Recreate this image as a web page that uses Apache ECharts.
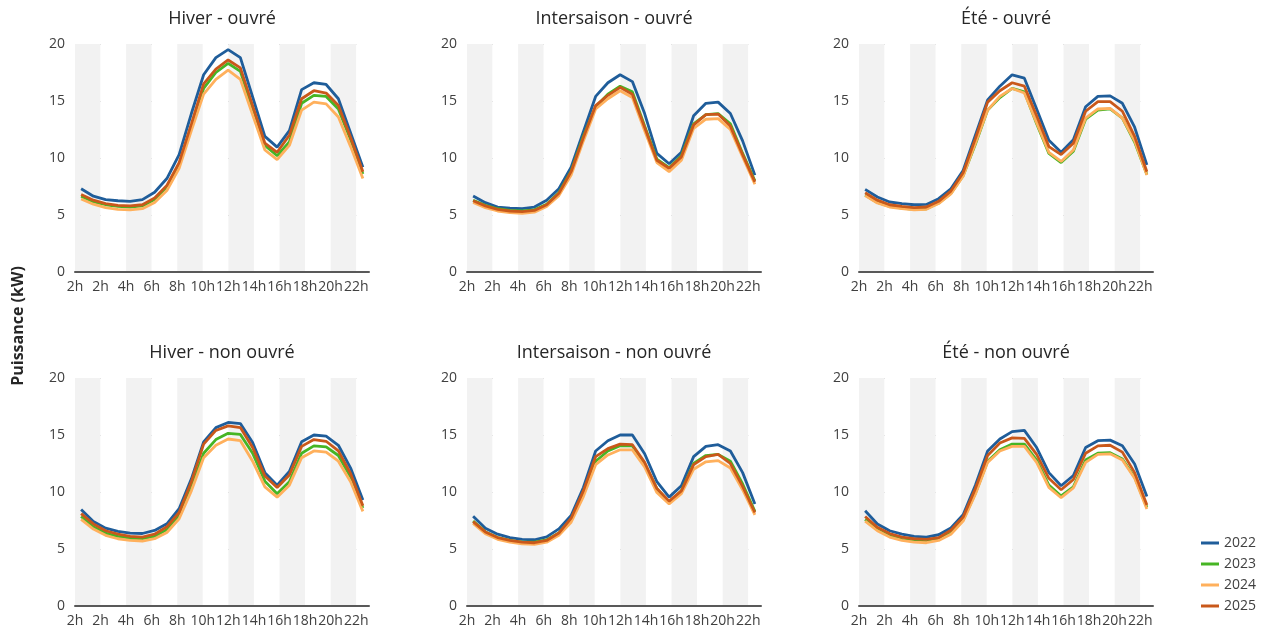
<!DOCTYPE html>
<html>
<head>
<meta charset="utf-8">
<script src="https://cdn.jsdelivr.net/npm/echarts@6/dist/echarts.min.js"></script>
<style>
  html, body { margin: 0; padding: 0; background: #fff; }
  #chart { width: 1261px; height: 630px; }
</style>
</head>
<body>
<div id="chart"></div>
<script>
// hours of the day (one point per hour)
const hours = ['0h','1h','2h','3h','4h','5h','6h','7h','8h','9h','10h','11h','12h','13h','14h','15h','16h','17h','18h','19h','20h','21h','22h','23h'];
// labels under each 2-hour band, as printed
const tickLabels = ['2h','2h','4h','6h','8h','10h','12h','14h','16h','18h','20h','22h'];
const years = ['2022','2023','2024','2025'];
const panelTitles = ['Hiver - ouvré','Intersaison - ouvré','Été - ouvré','Hiver - non ouvré','Intersaison - non ouvré','Été - non ouvré'];

// Hiver - ouvré
const hiverOuvre2022 = [7.3,6.65,6.35,6.25,6.2,6.35,7.0,8.2,10.3,13.9,17.3,18.8,19.5,18.8,15.35,11.9,10.95,12.4,16.0,16.6,16.45,15.2,12.2,9.2];
const hiverOuvre2023 = [6.65,6.15,5.9,5.75,5.7,5.8,6.35,7.45,9.4,12.8,16.1,17.5,18.3,17.6,14.3,11.1,10.2,11.4,14.8,15.5,15.4,14.3,11.6,8.6];
const hiverOuvre2024 = [6.4,5.95,5.65,5.5,5.45,5.55,6.1,7.15,9.1,12.4,15.6,16.9,17.7,16.9,13.8,10.7,9.85,11.1,14.2,14.9,14.75,13.6,11.0,8.2];
const hiverOuvre2025 = [6.8,6.3,6.0,5.85,5.8,5.9,6.5,7.6,9.6,13.0,16.5,17.8,18.6,17.9,14.6,11.3,10.5,12.0,15.2,15.9,15.7,14.6,11.8,8.8];

// Intersaison - ouvré
const interOuvre2022 = [6.67,6.08,5.7,5.6,5.55,5.7,6.3,7.3,9.2,12.3,15.4,16.6,17.3,16.7,13.9,10.4,9.5,10.5,13.7,14.8,14.9,13.9,11.5,8.5];
const interOuvre2023 = [6.3,5.85,5.55,5.4,5.35,5.45,5.95,6.95,8.85,11.9,14.5,15.6,16.3,15.8,12.8,9.9,9.15,10.2,13.0,13.8,13.9,13.0,10.4,8.0];
const interOuvre2024 = [6.1,5.65,5.35,5.2,5.15,5.25,5.75,6.7,8.5,11.5,14.3,15.2,15.9,15.3,12.4,9.6,8.8,9.8,12.6,13.4,13.45,12.5,10.1,7.7];
const interOuvre2025 = [6.25,5.8,5.5,5.35,5.3,5.4,5.9,6.9,8.8,11.8,14.6,15.5,16.2,15.6,12.7,9.8,9.1,10.1,12.9,13.8,13.85,12.8,10.3,7.9];

// Été - ouvré
const eteOuvre2022 = [7.25,6.58,6.14,6.0,5.9,5.93,6.43,7.3,8.9,12.0,15.1,16.3,17.3,17.0,14.3,11.55,10.5,11.6,14.5,15.4,15.45,14.8,12.7,9.4];
const eteOuvre2023 = [6.75,6.1,5.75,5.6,5.5,5.55,6.05,6.9,8.45,11.2,14.2,15.3,16.1,15.8,13.0,10.4,9.6,10.6,13.4,14.2,14.3,13.5,11.4,8.55];
const eteOuvre2024 = [6.7,6.05,5.7,5.55,5.45,5.5,6.0,6.85,8.4,11.3,14.2,15.4,16.1,15.7,13.1,10.5,9.7,10.7,13.5,14.3,14.35,13.5,11.5,8.5];
const eteOuvre2025 = [6.95,6.3,5.9,5.75,5.65,5.7,6.2,7.1,8.7,11.7,14.9,15.9,16.6,16.3,13.7,11.0,10.3,11.3,14.1,14.95,14.95,14.1,11.9,8.8];

// Hiver - non ouvré
const hiverNonOuvre2022 = [8.47,7.42,6.83,6.54,6.39,6.36,6.63,7.21,8.53,11.15,14.4,15.65,16.1,16.0,14.35,11.7,10.6,11.8,14.4,15.0,14.9,14.1,12.1,9.3];
const hiverNonOuvre2023 = [7.85,6.95,6.4,6.1,5.95,5.9,6.1,6.7,7.9,10.4,13.4,14.6,15.15,15.05,13.4,10.95,9.85,10.9,13.4,14.05,13.95,13.2,11.3,8.6];
const hiverNonOuvre2024 = [7.6,6.75,6.2,5.9,5.75,5.7,5.9,6.45,7.65,10.1,13.0,14.1,14.65,14.5,12.7,10.45,9.55,10.6,13.0,13.6,13.5,12.7,10.9,8.3];
const hiverNonOuvre2025 = [8.1,7.2,6.6,6.3,6.1,6.05,6.3,6.95,8.2,10.9,14.2,15.4,15.8,15.65,13.9,11.4,10.4,11.5,14.0,14.6,14.45,13.6,11.6,8.8];

// Intersaison - non ouvré
const interNonOuvre2022 = [7.88,6.83,6.3,5.99,5.84,5.81,6.07,6.77,7.94,10.4,13.6,14.5,15.0,15.0,13.35,10.9,9.55,10.55,13.1,14.0,14.15,13.6,11.7,8.95];
const interNonOuvre2023 = [7.45,6.5,6.0,5.75,5.6,5.6,5.8,6.4,7.6,9.9,12.7,13.6,14.05,14.05,12.5,10.3,9.1,10.1,12.5,13.2,13.3,12.7,10.7,8.3];
const interNonOuvre2024 = [7.25,6.35,5.85,5.6,5.45,5.4,5.6,6.2,7.35,9.6,12.4,13.25,13.7,13.7,12.2,9.95,8.95,9.85,12.0,12.65,12.75,12.1,10.2,8.0];
const interNonOuvre2025 = [7.4,6.5,6.0,5.75,5.6,5.55,5.75,6.4,7.7,10.1,13.1,13.8,14.2,14.15,12.6,10.3,9.2,10.1,12.4,13.1,13.3,12.5,10.5,8.2];

// Été - non ouvré
const eteNonOuvre2022 = [8.35,7.2,6.6,6.3,6.1,6.05,6.25,6.85,8.0,10.6,13.6,14.65,15.3,15.4,13.9,11.7,10.55,11.45,13.9,14.5,14.55,14.05,12.45,9.6];
const eteNonOuvre2023 = [7.6,6.7,6.15,5.85,5.7,5.65,5.85,6.4,7.55,9.9,12.7,13.7,14.2,14.2,12.8,10.6,9.65,10.45,12.8,13.4,13.45,12.9,11.3,8.65];
const eteNonOuvre2024 = [7.45,6.6,6.05,5.75,5.6,5.55,5.75,6.3,7.45,9.8,12.6,13.6,14.0,14.0,12.6,10.4,9.5,10.35,12.6,13.3,13.35,12.8,11.2,8.5];
const eteNonOuvre2025 = [7.85,6.9,6.35,6.05,5.9,5.85,6.0,6.65,7.8,10.3,13.2,14.3,14.75,14.7,13.3,11.2,10.2,11.1,13.4,14.05,14.1,13.5,11.7,8.85];

const panels = [
  [hiverOuvre2022, hiverOuvre2023, hiverOuvre2024, hiverOuvre2025],
  [interOuvre2022, interOuvre2023, interOuvre2024, interOuvre2025],
  [eteOuvre2022, eteOuvre2023, eteOuvre2024, eteOuvre2025],
  [hiverNonOuvre2022, hiverNonOuvre2023, hiverNonOuvre2024, hiverNonOuvre2025],
  [interNonOuvre2022, interNonOuvre2023, interNonOuvre2024, interNonOuvre2025],
  [eteNonOuvre2022, eteNonOuvre2023, eteNonOuvre2024, eteNonOuvre2025]
];

const colors = ['#1f5d9a', '#46b524', '#ffb05c', '#c9581a'];
const font = '"Open Sans", sans-serif';
const lefts = [75, 467, 859];
const tops = [44, 378];
const gridW = 294, gridH = 228;

const chart = echarts.init(document.getElementById('chart'));

const grid = [], xAxis = [], yAxis = [], series = [], title = [];
panels.forEach((panel, p) => {
  const col = p % 3, row = Math.floor(p / 3);
  grid.push({ left: lefts[col], top: tops[row], width: gridW, height: gridH });
  title.push({
    text: panelTitles[p],
    left: lefts[col] + gridW / 2,
    top: tops[row] - 34,
    textAlign: 'center',
    padding: 0,
    textStyle: { fontSize: 18, fontWeight: 'normal', color: '#262626', fontFamily: font }
  });
  // hidden hourly axis carrying the lines
  xAxis.push({
    type: 'category', gridIndex: p, data: hours, boundaryGap: true,
    show: false, position: 'top'
  });
  // visible axis: 2-hour bands and labels
  xAxis.push({
    type: 'value', gridIndex: p, position: 'bottom',
    min: 0, max: 23, interval: 2,
    axisLine: { show: true, lineStyle: { color: '#595959', width: 2 } },
    axisTick: { show: false },
    splitLine: { show: false },
    splitArea: { show: true, areaStyle: { color: ['#f2f2f2', '#ffffff'] } },
    axisLabel: {
      color: '#404040', fontSize: 14, fontFamily: font, margin: 8,
      showMaxLabel: false,
      formatter: v => (v % 2 === 0 && v <= 22) ? tickLabels[v / 2] : ''
    }
  });
  yAxis.push({
    type: 'value', gridIndex: p, min: 0, max: 20, interval: 5,
    axisLine: { show: false }, axisTick: { show: false },
    splitLine: { show: true, lineStyle: { color: '#a6a6a6', type: [2, 2], width: 1 } },
    axisLabel: { color: '#404040', fontSize: 14, fontFamily: font, margin: 10 }
  });
  panel.forEach((vals, k) => {
    series.push({
      name: years[k], type: 'line',
      xAxisIndex: 2 * p, yAxisIndex: p,
      data: vals, symbol: 'none', smooth: false,
      lineStyle: { width: 2.8, color: colors[k] },
      itemStyle: { color: colors[k] },
      emphasis: { disabled: true }
    });
  });
});

chart.setOption({
  animation: false,
  color: colors,
  title: title,
  grid: grid,
  xAxis: xAxis,
  yAxis: yAxis,
  series: series,
  legend: {
    data: years, orient: 'vertical', left: 1196, top: 531,
    icon: 'rect', itemWidth: 18, itemHeight: 3, itemGap: 7,
    textStyle: { color: '#404040', fontSize: 14, fontFamily: font }
  },
  graphic: [{
    type: 'text', x: 18, y: 326, rotation: Math.PI / 2,
    style: {
      text: 'Puissance (kW)', align: 'center', verticalAlign: 'middle',
      font: 'bold 16px "Open Sans", sans-serif', fill: '#262626'
    }
  }]
});
</script>
</body>
</html>
